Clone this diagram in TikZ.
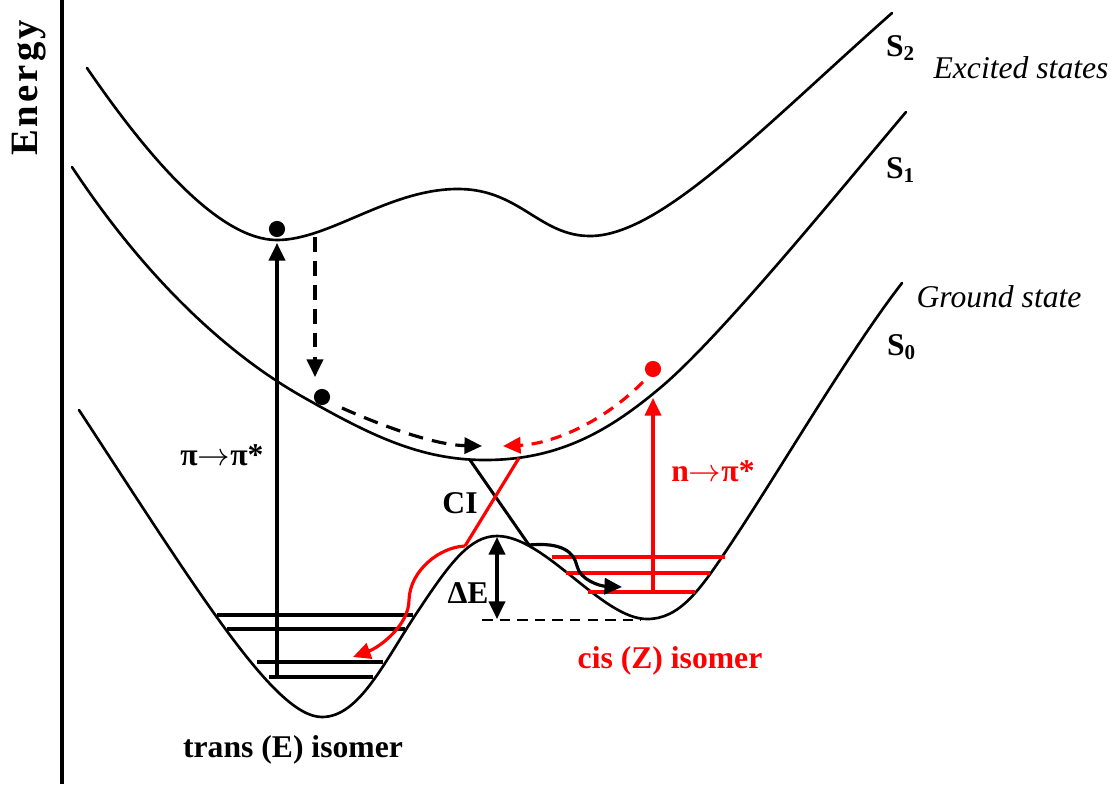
\documentclass[tikz,border=0pt]{standalone}
\usepackage{fontspec}
\setmainfont{Liberation Serif}
\usetikzlibrary{arrows.meta}
\begin{document}
\begin{tikzpicture}[x=0.01cm,y=-0.01cm,
  curve/.style={line width=0.75pt, line join=round, line cap=round},
  level/.style={line width=1.15pt},
  redlevel/.style={level, red},
  tip/.style={-{Triangle[length=5pt,width=4.6pt]}},
  arr/.style={line width=0.9pt, tip},
  darr/.style={arr, dash pattern=on 4.2pt off 2.6pt},
  lbl/.style={font=\fontsize{9}{10}\selectfont\bfseries, inner sep=0pt},
  ilbl/.style={font=\fontsize{9}{10}\selectfont\itshape, inner sep=0pt},
  dot/.style={circle, fill, inner sep=0pt, minimum size=4.6pt},
]
\useasboundingbox (0,0) rectangle (1115,784);
% axis
\coordinate (axtop) at (62,0);
\coordinate (axbot) at (62,784);
\draw[line width=0.9pt] (axtop) -- (axbot);
\node[rotate=90, inner sep=0pt, font=\fontsize{11}{12}\selectfont\bfseries\addfontfeature{LetterSpace=8}] (energy) at (29,88) {Energy};

% S2
\draw[curve] (87,68) .. controls (150,160) and (220,240) .. (277,240)
  .. controls (330,240) and (390,188) .. (460,189)
  .. controls (520,190) and (540,236) .. (590,236)
  .. controls (660,236) and (760,130) .. (892,13);
% S1
\draw[curve] (72,167) .. controls (140,270) and (220,350) .. (303,397)
  .. controls (370,435) and (420,460) .. (485,460)
  .. controls (560,460) and (610,430) .. (660,388)
  .. controls (720,338) and (840,190) .. (906,112);
% S0
\draw[curve] (79,410) .. controls (200,595) and (275,717) .. (322,717)
  .. controls (360,717) and (385,660) .. (420,608)
  .. controls (450,563) and (470,536) .. (497,536)
  .. controls (545,536) and (602,619) .. (647,619)
  .. controls (680,619) and (700,590) .. (730,545)
  .. controls (780,470) and (850,350) .. (902,283);

% vibrational levels trans
\draw[level] (217,615) coordinate (l1a) -- (413,615) coordinate (l1b);
\draw[level] (227,629) coordinate (l2a) -- (405,629) coordinate (l2b);
\draw[level] (257,662) coordinate (l3a) -- (383,662) coordinate (l3b);
\draw[level] (269,677) coordinate (l4a) -- (373,677) coordinate (l4b);
% vibrational levels cis
\draw[redlevel] (552,557) coordinate (r1a) -- (725,557) coordinate (r1b);
\draw[redlevel] (566,573) coordinate (r2a) -- (710,573) coordinate (r2b);
\draw[redlevel] (588,592) coordinate (r3a) -- (695,592) coordinate (r3b);

% excitation pi-pi*
\coordinate (pibot) at (277,677);
\coordinate (pitop) at (277,243);
\draw[arr] (pibot) -- (pitop);
\node[dot] (d1) at (277,229) {};
% relaxation S2 -> S1
\coordinate (dv1) at (315,237);
\coordinate (dv2) at (315,377);
\draw[darr] (dv1) -- (dv2);
\node[dot] (d2) at (322,397) {};
\coordinate (bd1) at (342,408);
\coordinate (bd2) at (482,446);
\draw[darr] (bd1) .. controls (387,428) and (436,445) .. (bd2);

% excitation n-pi*
\coordinate (nbot) at (653,592);
\coordinate (ntop) at (653,398);
\draw[arr, red] (nbot) -- (ntop);
\node[dot, red] (d3) at (653,369) {};
\coordinate (rd1) at (643,382);
\coordinate (rd2) at (503,446);
\draw[arr, red, dash pattern=on 3.2pt off 2.4pt] (rd1) .. controls (600,425) and (550,444) .. (rd2);

% conical intersection
\coordinate (cib1) at (470,460);
\coordinate (cib2) at (529,545);
\coordinate (cir1) at (519,458);
\coordinate (cir2) at (465,546);
\draw[line width=0.85pt] (cib1) -- (cib2);
\draw[line width=0.9pt, red] (cir1) -- (cir2);

% decay arrows
\coordinate (rs1) at (409,600);
\coordinate (rs2) at (353,657);
\draw[arr, red] (cir2) .. controls (440,547) and (410,570) .. (rs1) .. controls (409,625) and (380,647) .. (rs2);
\coordinate (bs1) at (577,566);
\coordinate (bs2) at (622,587);
\draw[arr] (cib2) .. controls (562,542) and (574,552) .. (bs1) .. controls (580,580) and (600,586) .. (bs2);

% Delta E
\coordinate (de1) at (497,537);
\coordinate (de2) at (497,619);
\draw[line width=0.9pt, {Triangle[length=5pt,width=4.6pt]}-{Triangle[length=5pt,width=4.6pt]}] (de1) -- (de2);
\coordinate (dh1) at (482,620);
\coordinate (dh2) at (641,620);
\draw[line width=0.75pt, dash pattern=on 3pt off 2pt] (dh1) -- (dh2);

% labels
\node[lbl] (pipi) at (222,455) {π$\rightarrow$π*};
\node[lbl, red] (npi) at (713,471) {n$\rightarrow$π*};
\node[lbl] (ci) at (460,503) {CI};
\node[lbl] (de) at (468,593) {ΔE};
\node[lbl, red] (cis) at (670,661) {cis (Z) isomer};
\node[lbl] (trans) at (293,750) {trans (E) isomer};
\node[lbl] (s2) at (901,48) {S\textsubscript{2}};
\node[ilbl] (exc) at (1021,68) {Excited states};
\node[lbl] (s1) at (901,170) {S\textsubscript{1}};
\node[ilbl] (gs) at (999,297) {Ground state};
\node[lbl] (s0) at (902,347) {S\textsubscript{0}};
\end{tikzpicture}
\end{document}
